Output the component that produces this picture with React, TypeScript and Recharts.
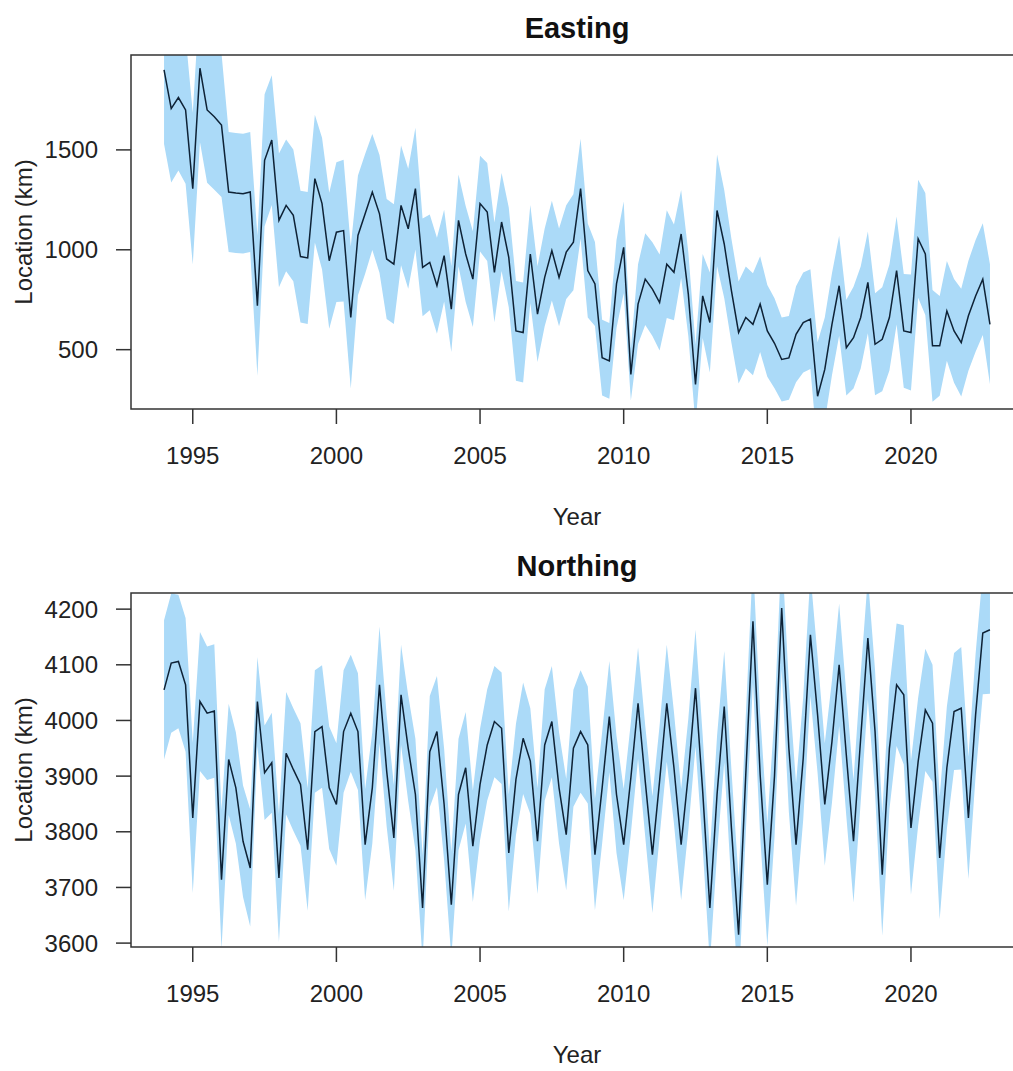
import React from 'react';
import { ComposedChart, Area, Line, XAxis, YAxis, ReferenceArea } from 'recharts';

// ---- data (quarterly, 1994 Q1 .. 2022 Q4) ----
const years = [
  1994, 1995, 1996, 1997, 1998, 1999, 2000, 2001, 2002, 2003, 2004, 2005, 2006, 2007, 2008,
  2009, 2010, 2011, 2012, 2013, 2014, 2015, 2016, 2017, 2018, 2019, 2020, 2021, 2022,
];
const quarterOffsets = [0, 0.25, 0.5, 0.75];

const yearTicks = [1995, 2000, 2005, 2010, 2015, 2020];
const eastingTicks = [500, 1000, 1500];
const northingTicks = [3600, 3700, 3800, 3900, 4000, 4100, 4200];

const eastingMean = [
  1900, 1707, 1762, 1700,
  1306, 1909, 1700, 1666,
  1624, 1289, 1284, 1281,
  1289, 720, 1448, 1549,
  1147, 1222, 1172, 966,
  959, 1356, 1231, 945,
  1088, 1096, 661, 1072,
  1180, 1289, 1180, 954,
  928, 1222, 1105, 1306,
  912, 937, 820, 971,
  703, 1147, 979, 853,
  1231, 1189, 887, 1139,
  962, 594, 586, 979,
  678, 862, 996, 862,
  988, 1038, 1306, 896,
  829, 460, 444, 829,
  1012, 376, 728, 853,
  803, 736, 928, 887,
  1079, 778, 326, 769,
  636, 1197, 1029, 795,
  586, 661, 627, 728,
  594, 532, 451, 459,
  577, 636, 653, 267,
  401, 627, 820, 510,
  560, 661, 837, 527,
  552, 661, 896, 594,
  586, 1055, 979, 519,
  519, 694, 594, 535,
  670, 769, 853, 627,
];

const eastingHalfWidth = [
  370, 370, 365, 370,
  380, 370, 365, 365,
  360, 300, 300, 300,
  300, 350, 330, 325,
  335, 330, 330, 330,
  330, 320, 330, 340,
  350, 355, 355, 300,
  300, 290, 295, 300,
  300, 300, 300, 305,
  245, 240, 240, 230,
  215, 230, 240, 240,
  240, 245, 250, 245,
  250, 250, 250, 245,
  240, 245, 250, 245,
  235, 240, 250, 235,
  210, 190, 190, 220,
  230, 130, 200, 230,
  235, 240, 270, 240,
  220, 210, 200, 210,
  250, 280, 270, 260,
  255, 255, 255, 240,
  230, 225, 210, 210,
  240, 250, 250, 270,
  260, 255, 250, 240,
  255, 255, 255, 255,
  260, 265, 270, 285,
  290, 295, 305, 280,
  250, 250, 260, 270,
  275, 280, 280, 300,
];

const northingMean = [
  4055, 4103, 4106, 4064,
  3825, 4034, 4013, 4017,
  3714, 3930, 3879, 3783,
  3735, 4034, 3906, 3924,
  3717, 3941, 3912, 3885,
  3768, 3980, 3989, 3879,
  3849, 3980, 4013, 3980,
  3777, 3879, 4064, 3909,
  3789, 4046, 3950, 3867,
  3663, 3944, 3980, 3849,
  3669, 3867, 3915, 3774,
  3885, 3956, 3998, 3986,
  3762, 3894, 3968, 3927,
  3783, 3956, 3998, 3879,
  3795, 3950, 3980, 3956,
  3759, 3879, 4007, 3867,
  3777, 3897, 4031, 3891,
  3759, 3891, 4031, 3915,
  3777, 3903, 4058, 3873,
  3663, 3867, 4025, 3807,
  3615, 3903, 4178, 3903,
  3705, 3900, 4202, 3950,
  3777, 3932, 4154, 4010,
  3849, 3962, 4100, 3938,
  3783, 3968, 4148, 3980,
  3723, 3950, 4064, 4046,
  3807, 3926, 4019, 3995,
  3753, 3915, 4016, 4022,
  3825, 4010, 4157, 4163,
];

const northingHalfWidth = [
  125, 125, 120, 120,
  135, 125, 120, 120,
  125, 100, 100, 100,
  105, 80, 85, 90,
  115, 110, 110, 110,
  110, 110, 110, 110,
  110, 110, 105, 105,
  100, 100, 105, 100,
  95, 90, 95, 100,
  95, 100, 100, 100,
  95, 100, 100, 100,
  100, 100, 100, 100,
  105, 100, 100, 95,
  95, 100, 100, 100,
  100, 105, 110, 105,
  100, 100, 100, 105,
  100, 100, 100, 100,
  105, 100, 105, 100,
  100, 100, 105, 100,
  100, 105, 100, 105,
  100, 105, 110, 110,
  110, 110, 110, 115,
  110, 110, 110, 105,
  110, 110, 110, 110,
  110, 115, 110, 110,
  110, 110, 110, 125,
  120, 115, 110, 105,
  110, 110, 105, 110,
  110, 110, 110, 115,
];

const times = years.flatMap((y) => quarterOffsets.map((q) => y + q));

const buildRows = (mean: number[], hw: number[]) =>
  times.map((t, i) => ({ t, mean: mean[i], band: [mean[i] - hw[i], mean[i] + hw[i]] }));

const eastingRows = buildRows(eastingMean, eastingHalfWidth);
const northingRows = buildRows(northingMean, northingHalfWidth);

// ---- layout ----
const FONT = '"Liberation Sans", Arial, Helvetica, sans-serif';
const X_DOMAIN: [number, number] = [1992.85, 2023.9];
const CHART_W = 1030;
const PLOT_LEFT = 131;
const PLOT_RIGHT_MARGIN = 7;
const TOP_MARGIN = 55;
const PLOT_H = 354;
const XAXIS_H = 62;
const CHART_H = TOP_MARGIN + PLOT_H + XAXIS_H;
const BAND = '#abdaf8';
const LINE = '#0e2236';
const INK = '#222';

type PanelProps = {
  top: number;
  title: string;
  rows: { t: number; mean: number; band: number[] }[];
  yDomain: [number, number];
  yTicks: number[];
};

function Panel({ top, title, rows, yDomain, yTicks }: PanelProps) {
  const plotW = CHART_W - PLOT_LEFT - PLOT_RIGHT_MARGIN;
  const boxTop = top + TOP_MARGIN;
  const boxBottom = boxTop + PLOT_H;
  return (
    <>
      <div
        style={{
          position: 'absolute',
          left: PLOT_LEFT,
          width: plotW,
          top: boxTop - 27 - 16,
          height: 32,
          lineHeight: '32px',
          textAlign: 'center',
          fontFamily: FONT,
          fontWeight: 'bold',
          fontSize: 29,
          color: '#111',
        }}
      >
        {title}
      </div>
      <div
        style={{
          position: 'absolute',
          left: PLOT_LEFT,
          width: plotW,
          top: boxBottom + 108 - 15,
          height: 30,
          lineHeight: '30px',
          textAlign: 'center',
          fontFamily: FONT,
          fontSize: 24,
          color: INK,
        }}
      >
        Year
      </div>
      <div
        style={{
          position: 'absolute',
          left: 24 - 120,
          width: 240,
          top: boxTop + PLOT_H / 2 - 15,
          height: 30,
          lineHeight: '30px',
          textAlign: 'center',
          fontFamily: FONT,
          fontSize: 24,
          color: INK,
          transform: 'rotate(-90deg)',
        }}
      >
        Location (km)
      </div>
      <div style={{ position: 'absolute', left: 0, top }}>
        <ComposedChart
          width={CHART_W}
          height={CHART_H}
          data={rows}
          margin={{ top: TOP_MARGIN, right: PLOT_RIGHT_MARGIN, bottom: 0, left: 0 }}
        >
          <XAxis
            dataKey="t"
            type="number"
            domain={X_DOMAIN}
            ticks={yearTicks}
            interval={0}
            allowDataOverflow
            axisLine={false}
            tickLine={{ stroke: '#333', strokeWidth: 1.5 }}
            tickSize={15}
            tickMargin={23}
            height={XAXIS_H}
            tick={{ fill: INK, fontSize: 24, fontFamily: FONT }}
          />
          <YAxis
            type="number"
            domain={yDomain}
            ticks={yTicks}
            interval={0}
            allowDataOverflow
            axisLine={false}
            tickLine={{ stroke: '#333', strokeWidth: 1.5 }}
            tickSize={15}
            tickMargin={18}
            width={PLOT_LEFT}
            tick={{ fill: INK, fontSize: 24, fontFamily: FONT }}
          />
          <Area
            dataKey="band"
            type="linear"
            stroke="none"
            fill={BAND}
            fillOpacity={1}
            isAnimationActive={false}
            activeDot={false}
          />
          <Line
            dataKey="mean"
            type="linear"
            stroke={LINE}
            strokeWidth={1.5}
            dot={false}
            activeDot={false}
            isAnimationActive={false}
          />
          <ReferenceArea
            x1={X_DOMAIN[0]}
            x2={X_DOMAIN[1]}
            y1={yDomain[0]}
            y2={yDomain[1]}
            fill="none"
            stroke="#333"
            strokeWidth={1.5}
            ifOverflow="visible"
          />
        </ComposedChart>
      </div>
    </>
  );
}

export default function App() {
  return (
    <div
      style={{
        position: 'absolute',
        left: 0,
        top: 0,
        width: 1013,
        height: 1071,
        overflow: 'hidden',
        background: '#fff',
      }}
    >
      <Panel top={0} title="Easting" rows={eastingRows} yDomain={[203, 1975]} yTicks={eastingTicks} />
      <Panel top={538} title="Northing" rows={northingRows} yDomain={[3593, 4229]} yTicks={northingTicks} />
    </div>
  );
}
